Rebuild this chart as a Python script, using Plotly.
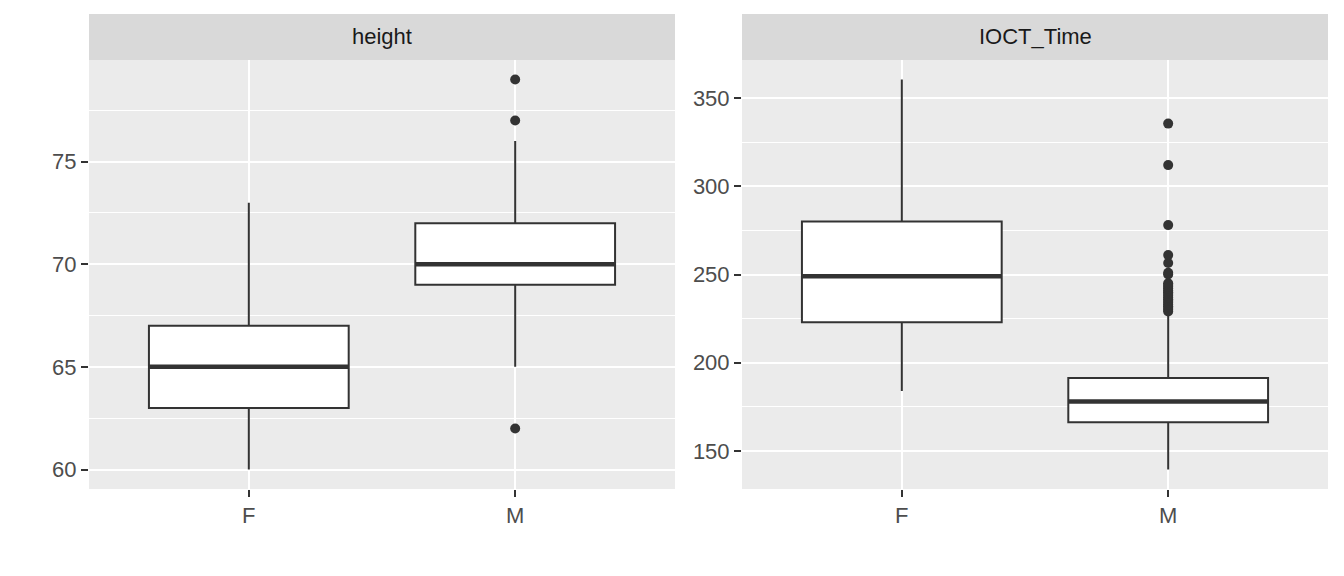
import plotly.graph_objects as go

# box stats (F, M)
groups = ["F", "M"]

height_lower = [60, 65]
height_q1 = [63, 69]
height_median = [65, 70]
height_q3 = [67, 72]
height_upper = [73, 76]
height_outliers_M = [62, 77, 79]

ioct_lower = [184, 139.5]
ioct_q1 = [223, 166.3]
ioct_median = [249, 178]
ioct_q3 = [280, 191.3]
ioct_upper = [360.5, 228.5]
ioct_outliers_M = [229, 230, 231, 232, 233, 234, 235, 236, 237, 238, 239, 240,
                   241, 242, 243, 244, 245, 250, 251, 256.5, 261, 278, 312, 335.5]

dark = "#333333"
box_w = 0.75
pos = list(range(len(groups)))

# page body has an 8px margin, so shift target pixel positions by it
W, H, OFF = 1344, 576, 8


def px_x(p):
    return (p - OFF) / W


def px_y(p):
    return 1 - (p - OFF) / H


fig = go.Figure()


def add_panel(n, lower, q1, med, q3, upper, outliers, title):
    xa = "x" if n == 1 else "x%d" % n
    ya = "y" if n == 1 else "y%d" % n
    fig.add_trace(go.Box(
        x=pos, q1=q1, median=med, q3=q3, lowerfence=lower, upperfence=upper,
        width=box_w, whiskerwidth=0, fillcolor="white",
        line=dict(color=dark, width=2), boxpoints=False,
        xaxis=xa, yaxis=ya, hoverinfo="skip", showlegend=False))
    # thicker median line like ggplot
    mx, my = [], []
    for p, m in zip(pos, med):
        mx += [p - box_w / 2, p + box_w / 2, None]
        my += [m, m, None]
    fig.add_trace(go.Scatter(x=mx, y=my, mode="lines", line=dict(color=dark, width=4.5),
                             xaxis=xa, yaxis=ya, hoverinfo="skip", showlegend=False))
    fig.add_trace(go.Scatter(x=[pos[1]] * len(outliers), y=outliers, mode="markers",
                             marker=dict(color=dark, size=10),
                             xaxis=xa, yaxis=ya, hoverinfo="skip", showlegend=False))
    # strip on top
    fig.add_shape(type="rect", xref=xa + " domain", yref="paper",
                  x0=0, x1=1, y0=px_y(60), y1=px_y(14),
                  fillcolor="#D9D9D9", line_width=0, layer="below")
    fig.add_annotation(text=title, xref=xa + " domain", yref="paper",
                       x=0.5, y=px_y(37), yanchor="middle", showarrow=False,
                       font=dict(size=22, color="#1A1A1A"))
    lo = min(lower + outliers)
    hi = max(upper + outliers)
    pad = (hi - lo) * 0.05
    return [lo - pad, hi + pad]


r1 = add_panel(1, height_lower, height_q1, height_median, height_q3, height_upper,
               height_outliers_M, "height")
r2 = add_panel(2, ioct_lower, ioct_q1, ioct_median, ioct_q3, ioct_upper,
               ioct_outliers_M, "IOCT_Time")

xcommon = dict(range=[-0.6, 1.6], tickmode="array", tickvals=pos, ticktext=groups,
               showgrid=True, gridcolor="white", gridwidth=2, zeroline=False,
               ticks="outside", ticklen=7, tickwidth=2, tickcolor=dark,
               tickfont=dict(size=22, color="#4D4D4D"), showline=False)
ycommon = dict(showgrid=True, gridcolor="white", gridwidth=2, zeroline=False,
               ticks="outside", ticklen=7, tickwidth=2, tickcolor=dark,
               tickfont=dict(size=22, color="#4D4D4D"), showline=False, tickmode="linear")

ydom = [px_y(489), px_y(60)]

fig.update_layout(
    width=W, height=H,
    margin=dict(l=0, r=0, t=0, b=0),
    paper_bgcolor="white", plot_bgcolor="#EBEBEB",
    font=dict(family="Liberation Sans, Arial, sans-serif"),
    showlegend=False,
    xaxis=dict(xcommon, domain=[px_x(89), px_x(675)], anchor="y"),
    xaxis2=dict(xcommon, domain=[px_x(742), px_x(1328)], anchor="y2"),
    yaxis=dict(ycommon, domain=ydom, anchor="x", range=r1, tick0=60, dtick=5,
               minor=dict(tick0=57.5, dtick=5, showgrid=True, gridcolor="white", gridwidth=1)),
    yaxis2=dict(ycommon, domain=ydom, anchor="x2", range=r2, tick0=150, dtick=50,
                minor=dict(tick0=125, dtick=50, showgrid=True, gridcolor="white", gridwidth=1)),
)

fig.write_html("out.html")
